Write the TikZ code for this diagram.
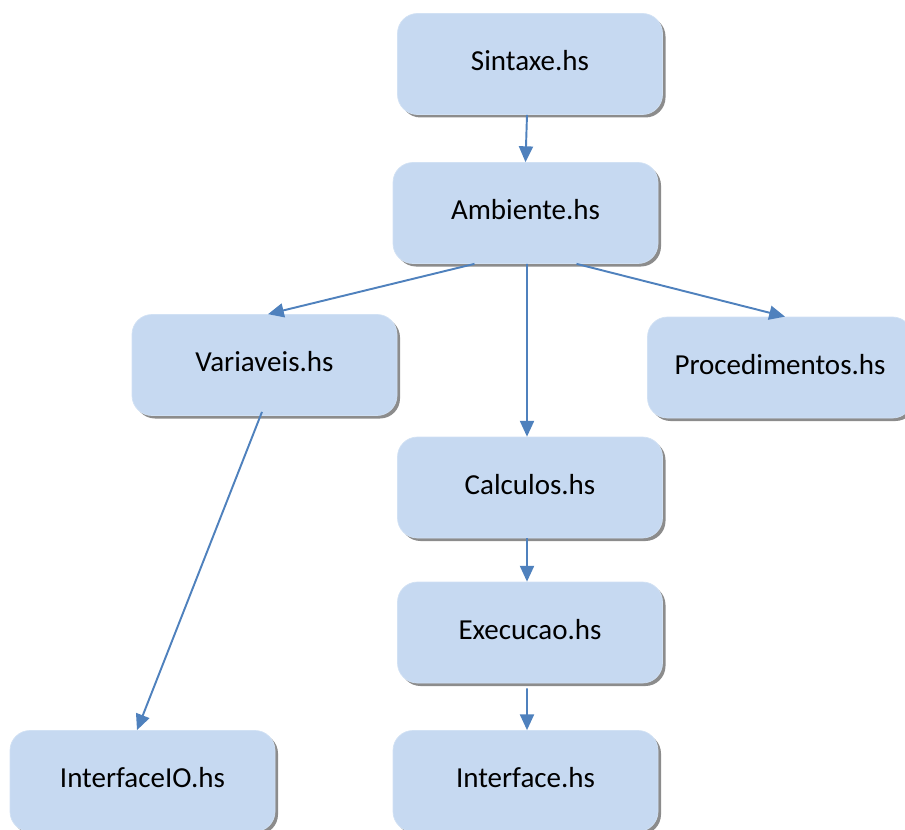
\documentclass[tikz,border=0pt]{standalone}
\usepackage{fontspec}
\setmainfont{Carlito}
\usetikzlibrary{arrows.meta,shadows}
\definecolor{boxfill}{HTML}{C6D9F1}
\definecolor{arrowblue}{HTML}{4F81BD}
\begin{document}
\begin{tikzpicture}
        \tikzstyle{modbox}=[rectangle, rounded corners=0.4cm, fill=boxfill, draw=boxfill!80!white,
            minimum width=5.3cm, minimum height=2.02cm, inner sep=0pt, font=\fontsize{16.5}{20}\selectfont,
            text height=0.42cm, text depth=0.16cm,
            drop shadow={shadow xshift=0.06cm, shadow yshift=-0.06cm, fill=gray!90, opacity=1}]
        \tikzstyle{dep}=[draw=arrowblue, line width=1.1pt, -{Triangle[length=9pt,width=8pt]}]

        \useasboundingbox (0,0) rectangle (18.1,-16.6);
        \clip (0,0) rectangle (18.1,-16.6);

        \node[modbox] (sin) at (10.6,-1.28)  {Sintaxe.hs};
        \node[modbox] (amb) at (10.51,-4.26) {Ambiente.hs};
        \node[modbox] (var) at (5.29,-7.3)   {Variaveis.hs};
        \node[modbox] (proc) at (15.6,-7.35) {Procedimentos.hs};
        \node[modbox] (calc) at (10.6,-9.75) {Calculos.hs};
        \node[modbox] (exe) at (10.6,-12.65) {Execucao.hs};
        \node[modbox] (io) at (2.85,-15.62)  {InterfaceIO.hs};
        \node[modbox] (intf) at (10.51,-15.62) {Interface.hs};

        \draw[dep] ([xshift=-0.06cm]sin.south) -- (amb.north);
        \draw[dep] ([xshift=-1.02cm]amb.south) -- ([xshift=0.07cm]var.north);
        \draw[dep] ([xshift=0.03cm]amb.south) -- ([xshift=-0.06cm]calc.north);
        \draw[dep] ([xshift=1.02cm]amb.south) -- ([xshift=0.1cm]proc.north);
        \draw[dep] ([xshift=-0.05cm,yshift=0.08cm]var.south) -- ([xshift=-0.11cm]io.north);
        \draw[dep] ([xshift=-0.06cm]calc.south) -- ([xshift=-0.06cm]exe.north);
        \draw[dep] ([xshift=-0.06cm,yshift=-0.1cm]exe.south) -- ([xshift=0.03cm]intf.north);
    \end{tikzpicture}
\end{document}
